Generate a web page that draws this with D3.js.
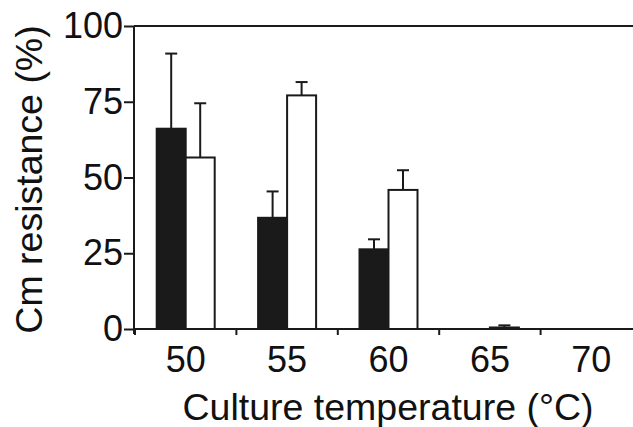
<!DOCTYPE html>
<html lang="en">
<head>
    <meta charset="UTF-8">
    <title>Cm resistance vs culture temperature</title>
    <script src="https://d3js.org/d3.v7.min.js"></script>
</head>
<style>
    body { margin: 0; background: #fff; }
    svg text { font-family: "Liberation Sans", Arial, Helvetica, sans-serif; fill: #111; }
</style>
<body>
<script>
    // data
    const temps = ['50', '55', '60', '65', '70'];
    const blackMean = [66.1, 36.7, 26.3, 0, 0];
    const blackErr  = [24.8, 8.7, 3.3, 0, 0];
    const whiteMean = [56.6, 77.1, 45.9, 0.5, 0];
    const whiteErr  = [17.9, 4.4, 6.5, 0.7, 0];
    const yTicks = [0, 25, 50, 75, 100];

    const width = 633;
    const height = 427;
    const margin = { top: 26, left: 134 };
    const plotRight = 642;      // frame continues just past the image edge
    const plotBottom = 329;
    const ink = '#1a1a1a';

    const svg = d3.select('body').append('svg')
        .attr('width', width)
        .attr('height', height)
        .style('overflow', 'hidden');

    const x = d3.scaleBand()
        .domain(temps)
        .range([margin.left + 1, plotRight]);

    const y = d3.scaleLinear()
        .domain([0, 100])
        .range([plotBottom, margin.top]);

    const barW = 29;

    const rows = temps.map((t, i) => ({
        t,
        series: [
            { key: 'black', mean: blackMean[i], err: blackErr[i], fill: ink, off: -barW },
            { key: 'white', mean: whiteMean[i], err: whiteErr[i], fill: '#fff', off: 0 }
        ]
    }));

    // top frame line
    svg.append('line')
        .attr('x1', margin.left).attr('x2', plotRight)
        .attr('y1', y(100)).attr('y2', y(100))
        .attr('stroke', ink).attr('stroke-width', 2);

    // bars
    const groups = svg.selectAll('.grp')
        .data(rows)
        .enter().append('g')
        .attr('class', 'grp')
        .attr('transform', d => `translate(${x(d.t) + x.bandwidth() / 2},0)`);

    const items = groups.selectAll('.bar')
        .data(d => d.series.filter(s => s.mean > 0 || s.err > 0))
        .enter().append('g');

    items.append('rect')
        .attr('x', d => d.off)
        .attr('y', d => y(d.mean))
        .attr('width', barW)
        .attr('height', d => plotBottom - y(d.mean))
        .attr('fill', d => d.fill)
        .attr('stroke', ink)
        .attr('stroke-width', 2);

    // error bars (upper only)
    const eb = items.filter(d => d.err > 0);
    eb.append('line')
        .attr('x1', d => d.off + barW / 2).attr('x2', d => d.off + barW / 2)
        .attr('y1', d => y(d.mean)).attr('y2', d => y(d.mean + d.err))
        .attr('stroke', ink).attr('stroke-width', 2);
    eb.append('line')
        .attr('x1', d => d.off + barW / 2 - 6).attr('x2', d => d.off + barW / 2 + 6)
        .attr('y1', d => y(d.mean + d.err)).attr('y2', d => y(d.mean + d.err))
        .attr('stroke', ink).attr('stroke-width', 2);

    // y axis
    const yAxis = svg.append('g')
        .attr('transform', `translate(${margin.left},0)`)
        .call(d3.axisLeft(y).tickValues(yTicks).tickSize(10).tickPadding(1).tickSizeOuter(0));
    yAxis.select('.domain').attr('stroke', ink).attr('stroke-width', 2)
        .attr('d', `M0,${y(100)}V${plotBottom + 5}`);
    yAxis.selectAll('.tick line').attr('stroke', ink).attr('stroke-width', 2);
    yAxis.selectAll('.tick text').style('font-size', '36px').attr('fill', '#111');

    // x axis: labels centred on bands, ticks on band boundaries
    const xAxis = svg.append('g')
        .attr('transform', `translate(0,${plotBottom})`)
        .call(d3.axisBottom(x).tickSize(0).tickPadding(17));
    xAxis.select('.domain').attr('stroke', ink).attr('stroke-width', 2)
        .attr('d', `M${margin.left},0H${plotRight}`);
    xAxis.selectAll('.tick text').style('font-size', '36px').attr('fill', '#111');

    const bounds = d3.range(temps.length + 1).map(i => x.range()[0] + i * x.step());
    xAxis.selectAll('.bound')
        .data(bounds)
        .enter().append('line')
        .attr('class', 'bound')
        .attr('x1', d => d).attr('x2', d => d)
        .attr('y1', 0).attr('y2', 6)
        .attr('stroke', ink).attr('stroke-width', 2);

    // axis titles
    svg.append('text')
        .attr('x', (margin.left + plotRight) / 2)
        .attr('y', 420)
        .attr('text-anchor', 'middle')
        .style('font-size', '37.5px')
        .text('Culture temperature (°C)');

    svg.append('text')
        .attr('transform', `translate(41.5,${(y(100) + plotBottom) / 2 + 2}) rotate(-90)`)
        .attr('text-anchor', 'middle')
        .style('font-size', '37.5px')
        .text('Cm resistance (%)');
</script>
</body>
</html>
